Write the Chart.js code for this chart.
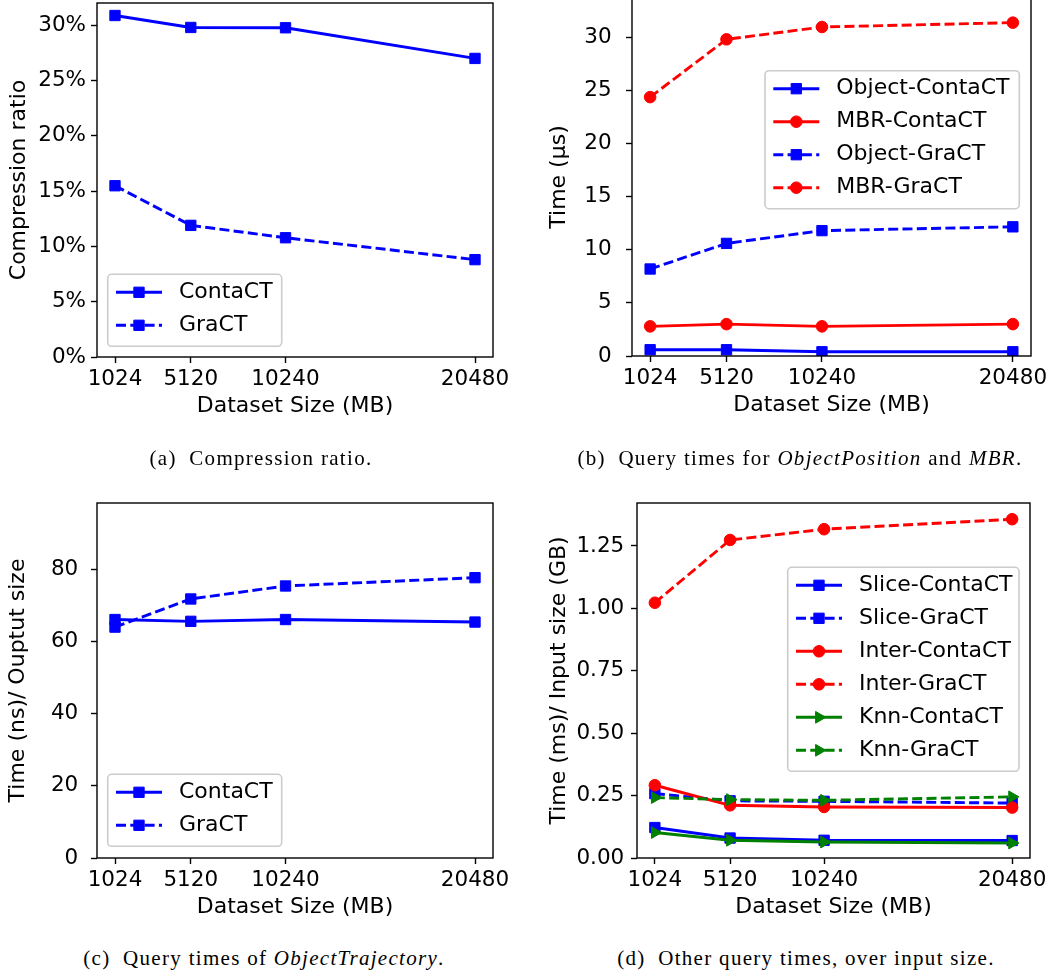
<!DOCTYPE html>
<html><head><meta charset="utf-8">
<script src="https://cdn.jsdelivr.net/npm/chart.js@4.4.0/dist/chart.umd.min.js"></script>
<style>
html,body{margin:0;padding:0;background:#fff;width:1064px;height:976px;overflow:hidden;position:relative}
canvas{position:absolute}
.cap{position:absolute;font-family:'Liberation Serif',serif;font-size:21px;letter-spacing:1.3px;white-space:nowrap;transform:translate(-50%,-50%);color:#000}
.cap i{font-style:italic}
.cap .lab{margin-right:6px}
</style></head><body>
<canvas id="ca"></canvas>
<canvas id="cb"></canvas>
<canvas id="cc"></canvas>
<canvas id="cd"></canvas>
<div class="cap" style="left:261px;top:458px"><span class="lab">(a)</span> Compression ratio.</div>
<div class="cap" style="left:800px;top:458px"><span class="lab">(b)</span> Query times for <i>ObjectPosition</i> and <i>MBR</i>.</div>
<div class="cap" style="left:264px;top:958px"><span class="lab">(c)</span> Query times of <i>ObjectTrajectory</i>.</div>
<div class="cap" style="left:806px;top:958px"><span class="lab">(d)</span> Other query times, over input size.</div>
<script>
// ---------- data ----------
const xSizes = [1024, 5120, 10240, 20480];
const xTickLabels = ['1024', '5120', '10240', '20480'];

// (a) compression ratio (%)
const ratioContaCT = [30.87, 29.79, 29.76, 26.99];
const ratioGraCT = [15.48, 11.9, 10.78, 8.8];
const yTicksA = [0, 5, 10, 15, 20, 25, 30];

// (b) query times (µs)
const objectContaCT = [0.59, 0.59, 0.4, 0.4];
const mbrContaCT = [2.79, 3.0, 2.79, 3.0];
const objectGraCT = [8.19, 10.6, 11.8, 12.16];
const mbrGraCT = [24.37, 29.81, 30.97, 31.38];
const yTicksB = [0, 5, 10, 15, 20, 25, 30];

// (c) ObjectTrajectory time (ns) / output size
const trajContaCT = [66.1, 65.6, 66.1, 65.4];
const trajGraCT = [64.0, 71.8, 75.4, 77.7];
const yTicksC = [0, 20, 40, 60, 80];

// (d) other query times (ms) / input size (GB)
const sliceContaCT = [0.122, 0.08, 0.071, 0.07];
const sliceGraCT = [0.258, 0.229, 0.227, 0.22];
const interContaCT = [0.2915, 0.211, 0.2045, 0.202];
const interGraCT = [1.0225, 1.274, 1.317, 1.357];
const knnContaCT = [0.102, 0.071, 0.064, 0.06];
const knnGraCT = [0.242, 0.234, 0.231, 0.245];
const yTicksD = [0, 0.25, 0.5, 0.75, 1.0, 1.25];

// ---------- styling helpers ----------
Chart.defaults.font.family = "'DejaVu Sans', sans-serif";
Chart.defaults.color = '#000';
const BLUE = '#0000ff', RED = '#ff0000', GREEN = '#008000';
const DASH = [10, 4.3];
const MARK = {
  square: {pointStyle: 'rect', pointRadius: 7.3, pointRotation: 0},
  circle: {pointStyle: 'circle', pointRadius: 5.8, pointRotation: 0},
  tri: {pointStyle: 'triangle', pointRadius: 6.8, pointRotation: 90}
};
function series(label, values, color, dashed, marker) {
  const m = MARK[marker];
  return {
    label,
    data: xSizes.map((x, i) => ({x, y: values[i]})),
    borderColor: color, backgroundColor: color,
    pointBackgroundColor: color, pointBorderColor: color,
    borderWidth: 2.9, pointBorderWidth: 1,
    borderDash: dashed ? DASH : [],
    pointStyle: m.pointStyle, pointRadius: m.pointRadius, pointRotation: m.pointRotation,
    pointHoverRadius: m.pointRadius,
    tension: 0, fill: false, _marker: marker
  };
}

function drawMarker(ctx, kind, x, y, color) {
  ctx.save();
  ctx.fillStyle = color; ctx.strokeStyle = color; ctx.lineWidth = 1; ctx.setLineDash([]);
  ctx.beginPath();
  if (kind === 'square') {
    const s = MARK.square.pointRadius * Math.SQRT1_2;
    ctx.rect(x - s, y - s, 2 * s, 2 * s);
  } else if (kind === 'circle') {
    ctx.arc(x, y, MARK.circle.pointRadius, 0, Math.PI * 2);
  } else {
    const r = MARK.tri.pointRadius;
    let a = Math.PI / 2;
    ctx.moveTo(x + Math.sin(a) * r, y - Math.cos(a) * r);
    a += 2 * Math.PI / 3;
    ctx.lineTo(x + Math.sin(a) * r, y - Math.cos(a) * r);
    a += 2 * Math.PI / 3;
    ctx.lineTo(x + Math.sin(a) * r, y - Math.cos(a) * r);
    ctx.closePath();
  }
  ctx.fill(); ctx.stroke();
  ctx.restore();
}

const frameLegend = {
  id: 'frameLegend',
  afterDatasetsDraw(chart, args, opts) {
    const ctx = chart.ctx, a = chart.chartArea;
    ctx.save();
    ctx.strokeStyle = '#000'; ctx.lineWidth = 1.4; ctx.setLineDash([]);
    ctx.strokeRect(a.left, a.top, a.right - a.left, a.bottom - a.top);
    ctx.restore();
    const lg = opts.legend;
    if (!lg) return;
    const dsets = chart.data.datasets;
    const n = dsets.length;
    const bx = lg.left - opts.ox, by = lg.top - opts.oy, bw = lg.width, bh = 6 + 33 * n;
    ctx.save();
    ctx.beginPath();
    if (ctx.roundRect) ctx.roundRect(bx, by, bw, bh, 4); else ctx.rect(bx, by, bw, bh);
    ctx.fillStyle = 'rgba(255,255,255,0.8)';
    ctx.fill();
    ctx.strokeStyle = '#cccccc'; ctx.lineWidth = 1.6;
    ctx.stroke();
    dsets.forEach((ds, i) => {
      const y = by + 18 + 33 * i;
      ctx.save();
      ctx.strokeStyle = ds.borderColor; ctx.lineWidth = ds.borderWidth;
      ctx.setLineDash(ds.borderDash || []);
      ctx.beginPath(); ctx.moveTo(bx + 8.3, y); ctx.lineTo(bx + 54.3, y); ctx.stroke();
      ctx.restore();
      drawMarker(ctx, ds._marker, bx + 31.3, y, ds.borderColor);
      ctx.fillStyle = '#000';
      ctx.font = "22px 'DejaVu Sans'";
      ctx.textBaseline = 'middle'; ctx.textAlign = 'left';
      ctx.fillText(ds.label, bx + 71.3, y);
    });
    ctx.restore();
  }
};

// ---------- panel builder ----------
const XMIN = 1024 - 0.05 * (20480 - 1024), XMAX = 20480 + 0.05 * (20480 - 1024);
const XH = 70, PB = 5;
function makePanel(id, cv, area, y, dsets, legend) {
  const el = document.getElementById(id);
  const w = cv.w, h = area.B - cv.y + XH + PB;
  el.width = w; el.height = h;
  el.style.left = cv.x + 'px'; el.style.top = cv.y + 'px';
  el.style.width = w + 'px'; el.style.height = h + 'px';
  const yW = area.L - cv.x;
  const n = dsets.length;
  dsets.forEach((d, i) => { d.order = n - i; });
  return new Chart(el, {
    type: 'line',
    data: {datasets: dsets},
    plugins: [frameLegend],
    options: {
      responsive: false, animation: false, events: [],
      layout: {padding: {left: 0, top: area.T - cv.y, right: cv.x + w - area.R, bottom: PB}},
      plugins: {
        legend: {display: false}, tooltip: {enabled: false},
        frameLegend: {legend, ox: cv.x, oy: cv.y}
      },
      scales: {
        x: {
          type: 'linear', min: XMIN, max: XMAX,
          afterBuildTicks: s => { s.ticks = xSizes.map(v => ({value: v})); },
          afterFit: s => { s.height = XH; },
          ticks: {autoSkip: false, maxRotation: 0, minRotation: 0, padding: 3.1, color: '#000',
                  font: {size: 21.5}, callback: v => xTickLabels[xSizes.indexOf(v)]},
          grid: {drawOnChartArea: false, drawTicks: true, tickLength: 6, tickColor: '#000', tickWidth: 1.4},
          border: {display: false},
          title: {display: true, text: 'Dataset Size (MB)', color: '#000', font: {size: 22},
                  padding: {top: 0, bottom: 7.8}}
        },
        y: {
          type: 'linear', min: 0, max: y.max,
          afterBuildTicks: s => { s.ticks = y.ticks.map(v => ({value: v})); },
          afterFit: s => { s.width = yW; },
          ticks: {autoSkip: false, padding: y.pad, color: '#000', font: {size: 21.5}, callback: y.fmt},
          grid: {drawOnChartArea: false, drawTicks: true, tickLength: 6, tickColor: '#000', tickWidth: 1.4},
          border: {display: false},
          title: {display: true, text: y.title, color: '#000', font: {size: 22},
                  padding: {top: y.tpad, bottom: 0}}
        }
      }
    }
  });
}

makePanel('ca', {x: 0, y: -30, w: 530}, {L: 97, T: 3, R: 493, B: 357},
  {max: 32, ticks: yTicksA, pad: 5, tpad: 5.6, title: 'Compression ratio', fmt: v => v + '%'},
  [series('ContaCT', ratioContaCT, BLUE, false, 'square'),
   series('GraCT', ratioGraCT, BLUE, true, 'square')],
  {left: 107.7, top: 274.3, width: 174});

makePanel('cb', {x: 530, y: -30, w: 534}, {L: 632, T: -2, R: 1031, B: 356},
  {max: 33.7, ticks: yTicksB, pad: 14.3, tpad: 16.1, title: 'Time (µs)', fmt: v => String(v)},
  [series('Object-ContaCT', objectContaCT, BLUE, false, 'square'),
   series('MBR-ContaCT', mbrContaCT, RED, false, 'circle'),
   series('Object-GraCT', objectGraCT, BLUE, true, 'square'),
   series('MBR-GraCT', mbrGraCT, RED, true, 'circle')],
  {left: 765, top: 70.7, width: 254.3});

makePanel('cc', {x: 0, y: 470, w: 530}, {L: 97, T: 503, R: 493, B: 858},
  {max: 98.4, ticks: yTicksC, pad: 12.7, tpad: 5.1, title: 'Time (ns)/ Ouptut size', fmt: v => String(v)},
  [series('ContaCT', trajContaCT, BLUE, false, 'square'),
   series('GraCT', trajGraCT, BLUE, true, 'square')],
  {left: 107.7, top: 774.3, width: 174});

makePanel('cd', {x: 530, y: 470, w: 534}, {L: 637, T: 503, R: 1030, B: 858},
  {max: 1.422, ticks: yTicksD, pad: 6.7, tpad: 16.1, title: 'Time (ms)/ Input size (GB)', fmt: v => v.toFixed(2)},
  [series('Slice-ContaCT', sliceContaCT, BLUE, false, 'square'),
   series('Slice-GraCT', sliceGraCT, BLUE, true, 'square'),
   series('Inter-ContaCT', interContaCT, RED, false, 'circle'),
   series('Inter-GraCT', interGraCT, RED, true, 'circle'),
   series('Knn-ContaCT', knnContaCT, GREEN, false, 'tri'),
   series('Knn-GraCT', knnGraCT, GREEN, true, 'tri')],
  {left: 787.7, top: 567.3, width: 231.3});
</script>
</body></html>
